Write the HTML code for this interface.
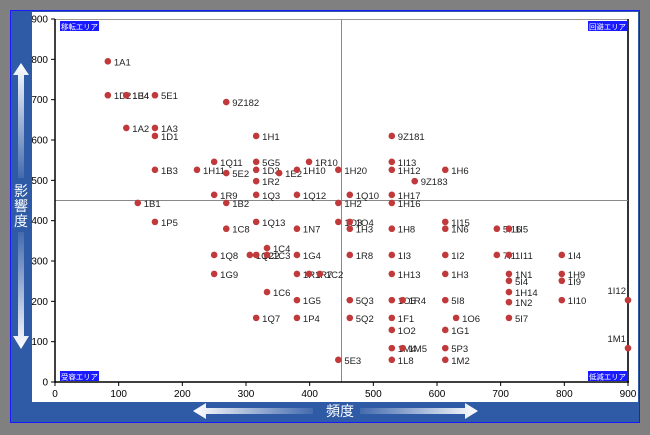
<!DOCTYPE html>
<html><head><meta charset="utf-8"><style>
html,body{margin:0;padding:0;background:#808080;}
svg{display:block;font-family:"Liberation Sans","Noto Sans CJK JP",sans-serif;}
</style></head><body>
<svg id="c" width="650" height="435" viewBox="0 0 650 435">
<defs>
<linearGradient id="gu" x1="0" y1="1" x2="0" y2="0"><stop offset="0" stop-color="#fff" stop-opacity="0.1"/><stop offset="1" stop-color="#fff"/></linearGradient>
<linearGradient id="gd" x1="0" y1="0" x2="0" y2="1"><stop offset="0" stop-color="#fff" stop-opacity="0.1"/><stop offset="1" stop-color="#fff"/></linearGradient>
<linearGradient id="gl" x1="1" y1="0" x2="0" y2="0"><stop offset="0" stop-color="#fff" stop-opacity="0.1"/><stop offset="1" stop-color="#fff"/></linearGradient>
<linearGradient id="gr" x1="0" y1="0" x2="1" y2="0"><stop offset="0" stop-color="#fff" stop-opacity="0.1"/><stop offset="1" stop-color="#fff"/></linearGradient>
</defs>
<rect x="0" y="0" width="650" height="435" fill="#808080"/>
<rect x="10.5" y="10.5" width="629" height="412" fill="#2f5aa5" stroke="#1a1aff" stroke-width="1"/>
<rect x="32" y="12" width="606" height="390" fill="#fff"/>
<g>
<polygon points="21,63 29,75 24,75 24,178 18,178 18,75 13,75" fill="url(#gu)"/>
<text x="21" y="196" fill="#fff" font-size="14" text-anchor="middle">影</text>
<text x="21" y="211" fill="#fff" font-size="14" text-anchor="middle">響</text>
<text x="21" y="226" fill="#fff" font-size="14" text-anchor="middle">度</text>
<polygon points="18,232 24,232 24,336 29,336 21,349 13,336 18,336" fill="url(#gd)"/>
</g>
<g>
<polygon points="193,411 206,403 206,408 313,408 313,414 206,414 206,419" fill="url(#gl)"/>
<text x="340" y="416" fill="#fff" font-size="14" text-anchor="middle">頻度</text>
<polygon points="360,408 465,408 465,403 478,411 465,419 465,414 360,414" fill="url(#gr)"/>
</g>
<g id="axes"></g>
<g id="marks"></g>
</svg>
<script>
const labels=["1A1","1D2","1E4","1B4","5E1","9Z182","1A2","1A3","1D1","1H1","1Q11","5G5","1R10","1B3","1H11","1D3","5E2","1E2","1H10","1R2","1H20","1I13","1H12","1H6","9Z183","9Z181","1R9","1Q3","1Q12","1Q10","1H17","1B1","1B2","1H2","1H16","1P5","1Q13","1C8","1N7","1O3","1O4","1H3","1H8","1I15","1N6","5I16","1I5","1Q8","1Q2","1C2","1C3","1C4","1G4","1R8","1I3","1I2","7I1","1I11","1I4","1G9","1R1","1R7","1C2","1H13","1H3","1N1","1H9","5I4","1I9","1C6","1H14","1G5","5Q3","1O5","1R4","5I8","1N2","1I10","1I12","1Q7","1P4","5Q2","1F1","1O6","5I7","1O2","1G1","1M4","1M5","5P3","1M1","5E3","1L8","1M2"];
const freq=[83,83,112,112,157,269,112,157,157,316,250,316,399,157,223,316,269,352,380,316,445,529,529,613,565,529,250,316,380,463,529,130,269,445,529,157,316,269,380,445,463,463,529,613,613,694,713,250,306,316,333,333,380,463,529,613,694,713,796,250,380,399,416,529,613,713,796,713,796,333,713,380,463,529,546,613,713,796,900,316,380,463,529,630,713,529,613,529,546,613,900,445,529,613];
const impact=[795,711,711,711,711,694,630,630,610,610,546,546,546,526,526,526,518,518,526,498,526,546,526,526,498,610,464,464,464,464,464,444,444,444,444,397,397,380,380,397,397,380,380,397,380,380,380,315,315,315,315,332,315,315,315,315,315,315,315,268,268,268,268,268,268,268,268,251,251,223,223,203,203,203,203,203,198,203,203,159,159,159,159,159,159,129,129,84,84,84,84,55,55,55];
const xTicks=[0,100,200,300,400,500,600,700,800,900];
const yTicks=[0,100,200,300,400,500,600,700,800,900];
const X0=55,X1=628,Y0=382,Y1=19;
const sx=v=>X0+(v/900)*(X1-X0);
const sy=v=>Y0-(v/900)*(Y0-Y1);
const NS="http://www.w3.org/2000/svg";
const ax=document.getElementById('axes'),mk=document.getElementById('marks');
function mkEl(t,a,p){const e=document.createElementNS(NS,t);for(const k in a)e.setAttribute(k,a[k]);p.appendChild(e);return e;}
let e;
e=mkEl('line',{x1:X0,y1:Y1+0.5,x2:X1,y2:Y1+0.5,stroke:'#999'},ax);


e=mkEl('line',{x1:X1,y1:Y1,x2:X1,y2:Y0,stroke:'#333','stroke-width':2},ax);


e=mkEl('line',{x1:sx(450),y1:Y1,x2:sx(450),y2:Y0,stroke:'#888'},ax);


e=mkEl('line',{x1:X0,y1:sy(450),x2:X1,y2:sy(450),stroke:'#888'},ax);


e=mkEl('line',{x1:X0,y1:Y1,x2:X0,y2:Y0+1,stroke:'#000','stroke-width':1.5},ax);


e=mkEl('line',{x1:X0,y1:Y0,x2:X1+1,y2:Y0,stroke:'#000','stroke-width':1.5},ax);


yTicks.forEach(v=>{
 let t=mkEl('line',{x1:X0-4,y1:sy(v),x2:X0,y2:sy(v),stroke:'#000'},ax);
 
 
 let l=mkEl('text',{x:X0-7,y:sy(v)+3.5,'font-size':10,'text-anchor':'end',fill:'#000'},ax);
 l.textContent=v;
 
 
});
xTicks.forEach(v=>{
 let t=mkEl('line',{x1:sx(v),y1:Y0,x2:sx(v),y2:Y0+4,stroke:'#000'},ax);
 
 
 let l=mkEl('text',{x:sx(v),y:Y0+15,'font-size':10,'text-anchor':'middle',fill:'#000'},ax);
 l.textContent=v;
 
 
});
const areas=[["移転エリア",61,21,'start'],["回避エリア",626,21,'end'],["受容エリア",61,371,'start'],["低減エリア",626,371,'end']];
areas.forEach(a=>{
 const w=37;const x=a[3]==='start'?a[1]:a[1]-w;
 let r=mkEl('rect',{x:x-1,y:a[2],width:w+2,height:10,fill:'#1a1aff'},ax);
 
 
 let t=mkEl('text',{x:x,y:a[2]+8.5,'font-size':7.5,fill:'#fff',textLength:w},ax);
 t.textContent=a[0];
 
 
});
labels.forEach((lab,i)=>{
 const cx=sx(freq[i]),cy=sy(impact[i]);
 let c=mkEl('circle',{cx:cx,cy:cy,r:3.3,fill:'#c0393b'},mk);
 
 
 let t;
 if(freq[i]>=900){t=mkEl('text',{x:cx-2,y:cy-6,'font-size':9.5,'text-anchor':'end',fill:'#222'},mk);}
 else{t=mkEl('text',{x:cx+6,y:cy+4,'font-size':9.5,fill:'#222'},mk);}
 t.textContent=lab;
 
 
});
</script>
</body></html>
